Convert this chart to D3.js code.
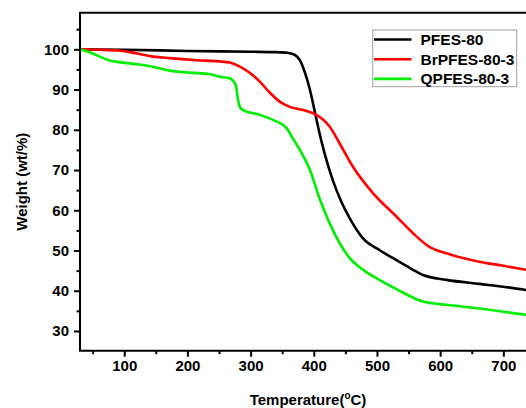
<!DOCTYPE html>
<html>
<head>
<meta charset="utf-8">
<script src="https://cdn.jsdelivr.net/npm/d3@7"></script>
<style>
  html, body { margin: 0; padding: 0; background: #fff; }
  svg { display: block; }
  text { font-family: "Liberation Sans", Arial, sans-serif; font-weight: bold; fill: #000; }
</style>
</head>
<body>
<svg id="chart" width="526" height="408"></svg>
<script>
// TGA curves: temperature (°C) vs residual weight (wt%)
const seriesNames = ["PFES-80", "BrPFES-80-3", "QPFES-80-3"];
const seriesColors = ["#000000", "#ff0000", "#00ee00"];

const pfesTemp   = [30, 100, 200, 300, 340, 360, 370, 378, 386, 394, 402, 409, 417, 430, 444, 457, 478, 505, 531, 555, 573, 610, 662, 700, 740];
const pfesWeight = [100, 99.9, 99.6, 99.4, 99.3, 99.1, 98.6, 97.3, 94.2, 89.9, 84.2, 79.2, 74.2, 67.5, 62.0, 58.0, 53.0, 50.0, 47.6, 45.4, 43.9, 42.7, 41.7, 41.0, 40.1];

const brTemp   = [30, 60, 90, 109, 141, 172, 214, 250, 267, 283, 300, 315, 330, 346, 362, 383, 404, 415, 425, 441, 462, 494, 531, 557, 583, 610, 662, 700, 740];
const brWeight = [100, 99.9, 99.7, 99.3, 98.3, 97.8, 97.3, 97.0, 96.7, 95.7, 94.0, 91.9, 89.3, 87.0, 85.7, 84.9, 83.7, 82.5, 80.8, 76.6, 70.8, 64.2, 58.4, 54.3, 50.9, 49.3, 47.2, 46.2, 45.1];

const qTemp   = [30, 46, 77, 109, 141, 172, 204, 236, 251, 267, 272, 277, 280, 283, 288, 315, 336, 357, 367, 378, 394, 409, 425, 441, 457, 480, 505, 531, 573, 610, 662, 700, 740];
const qWeight = [100, 99.2, 97.2, 96.5, 95.8, 94.7, 94.2, 93.8, 93.2, 92.8, 92.2, 90.8, 87.5, 85.7, 84.9, 83.7, 82.4, 80.4, 77.8, 75.0, 70.0, 63.0, 56.8, 51.8, 48.1, 45.0, 42.6, 40.4, 37.3, 36.5, 35.6, 34.8, 33.9];

const xTicks = [100, 200, 300, 400, 500, 600, 700];
const yTicks = [30, 40, 50, 60, 70, 80, 90, 100];

const series = [
  { name: seriesNames[0], color: seriesColors[0], t: pfesTemp, w: pfesWeight },
  { name: seriesNames[1], color: seriesColors[1], t: brTemp,   w: brWeight },
  { name: seriesNames[2], color: seriesColors[2], t: qTemp,    w: qWeight }
];

const svg = d3.select("#chart");
const plotL = 80, plotR = 528.6, plotT = 12.7, plotB = 350.7;

const x = d3.scaleLinear().domain([30, 740]).range([plotL, plotR]);
const y = d3.scaleLinear().domain([25.1, 109.1]).range([plotB, plotT]);

// curves
const line = d3.line().curve(d3.curveMonotoneX)
  .x(d => x(d[0])).y(d => y(d[1]));

series.forEach(s => {
  svg.append("path")
    .datum(s.t.map((t, i) => [t, s.w[i]]))
    .attr("d", line)
    .attr("fill", "none")
    .attr("stroke", s.color)
    .attr("stroke-width", 2.6)
    .attr("stroke-linejoin", "round");
});

// axes
const xMinor = d3.range(50, 740, 50).filter(v => v % 100 !== 0);
const yMinor = d3.range(35, 109, 10);

const xAxis = svg.append("g").attr("transform", `translate(0,${plotB})`)
  .call(d3.axisBottom(x).tickValues(xTicks).tickSize(6).tickPadding(4).tickFormat(d3.format("d")));
const xAxisMinor = svg.append("g").attr("transform", `translate(0,${plotB})`)
  .call(d3.axisBottom(x).tickValues(xMinor).tickSize(3.5).tickFormat(""));
const yAxis = svg.append("g").attr("transform", `translate(${plotL},0)`)
  .call(d3.axisLeft(y).tickValues(yTicks).tickSize(6).tickPadding(5).tickFormat(d3.format("d")));
const yAxisMinor = svg.append("g").attr("transform", `translate(${plotL},0)`)
  .call(d3.axisLeft(y).tickValues(yMinor).tickSize(3.5).tickFormat(""));

[xAxis, xAxisMinor, yAxis, yAxisMinor].forEach(g => {
  g.select(".domain").remove();
  g.selectAll("line").attr("stroke", "#000").attr("stroke-width", 2);
  g.selectAll("text").style("font-size", "15px").style("font-family", "Liberation Sans, Arial, sans-serif").style("font-weight", "bold").attr("fill", "#000");
});

// frame: left, bottom and top borders
svg.append("path")
  .attr("d", `M${plotR},${plotT}H${plotL}V${plotB}H${plotR}`)
  .attr("fill", "none").attr("stroke", "#000").attr("stroke-width", 2);

// axis titles
svg.append("text")
  .attr("transform", `translate(27,${(plotT + plotB) / 2}) rotate(-90)`)
  .attr("text-anchor", "middle")
  .style("font-size", "15px")
  .text("Weight (wt/%)");

const xt = svg.append("text")
  .attr("x", 308).attr("y", 405)
  .attr("text-anchor", "middle")
  .style("font-size", "15px");
xt.append("tspan").text("Temperature(");
xt.append("tspan").attr("dy", -6).style("font-size", "10px").text("o");
xt.append("tspan").attr("dy", 6).text("C)");

// legend
const lg = svg.append("g");
lg.append("rect")
  .attr("x", 372.7).attr("y", 30).attr("width", 144).attr("height", 56.7)
  .attr("fill", "#fff").attr("stroke", "#a0a0a0").attr("stroke-width", 1);
series.forEach((s, i) => {
  const cy = 39.5 + i * 19.7;
  lg.append("line")
    .attr("x1", 374).attr("x2", 411.5).attr("y1", cy).attr("y2", cy)
    .attr("stroke", s.color).attr("stroke-width", 2.6);
  lg.append("text")
    .attr("x", 420.5).attr("y", cy + 5.5)
    .style("font-size", "15.5px")
    .text(s.name);
});
</script>
</body>
</html>
